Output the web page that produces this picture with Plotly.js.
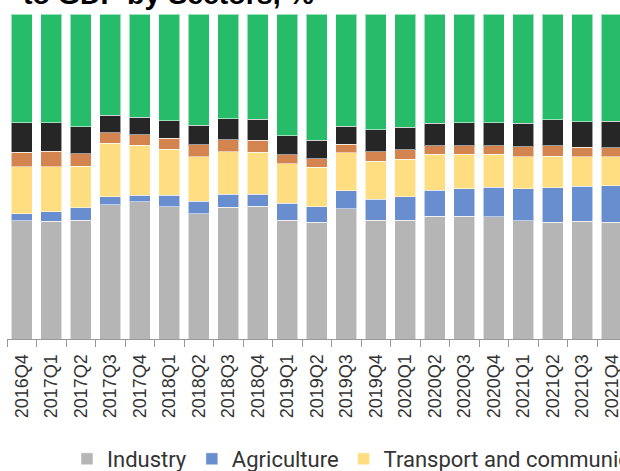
<!DOCTYPE html>
<html>
<head>
<meta charset="utf-8">
<script src="https://cdn.plot.ly/plotly-3.0.1.min.js"></script>
<style>
html, body { margin: 0; padding: 0; overflow: hidden; background: #fff; width: 620px; height: 471px; }
#chart { width: 2400px; height: 471px; }
</style>
</head>
<body>
<div id="chart"></div>
<script>
const quarters = ["2016Q4","2017Q1","2017Q2","2017Q3","2017Q4","2018Q1","2018Q2","2018Q3","2018Q4","2019Q1","2019Q2","2019Q3","2019Q4","2020Q1","2020Q2","2020Q3","2020Q4","2021Q1","2021Q2","2021Q3","2021Q4"];
const industry    = [36.4,36.3,36.6,41.3,42.2,40.7,38.6,40.5,40.8,36.5,35.9,40.1,36.6,36.6,37.8,37.8,37.6,36.4,35.9,36.2,35.9];
const agriculture = [2.2,2.9,3.8,2.5,2.1,3.5,3.8,4.0,3.7,5.2,4.8,5.5,6.4,7.2,7.9,8.5,9.1,9.8,10.6,10.8,11.3];
const transport   = [14.4,13.8,12.8,16.5,15.3,14.2,13.7,13.1,13.0,12.3,12.1,11.7,11.7,11.5,11.1,10.5,10.1,9.9,9.8,9.1,8.9];
const construction= [4.5,4.7,3.8,3.1,3.3,3.3,3.6,3.7,3.6,2.7,2.7,2.6,2.9,2.9,2.6,2.6,2.6,3.0,3.1,2.9,2.7];
const trade       = [9.1,8.9,8.3,5.5,5.4,5.5,6.1,6.4,6.5,5.8,5.7,5.6,6.8,7.0,7.0,7.2,7.2,7.3,8.0,7.8,8.2];
const services    = [33.4,33.4,34.7,31.1,31.7,32.8,34.2,32.3,32.4,37.5,38.8,34.5,35.6,34.8,33.6,33.4,33.4,33.6,32.6,33.2,33.0];

const seriesNames = ["Industry","Agriculture","Transport and communication","Construction","Trade","Services"];
const seriesData = [industry, agriculture, transport, construction, trade, services];
const seriesColors = ["#B5B5B5","#698ED0","#FEDE80","#D4844E","#262626","#27BC69"];

const traces = seriesData.map((vals, i) => ({
  type: "bar",
  name: seriesNames[i],
  x: quarters,
  y: vals,
  marker: { color: seriesColors[i], line: { color: "rgba(255,255,255,0.55)", width: 1 } },
  hoverinfo: "x+y+name"
}));

// The reference is a crop of a wider chart: the page is wider than the window
const figW = 2400, figH = 471;
const mLeft = 7, plotW = 2000, mTop = 14, mBottom = 132;
const catPx = 29.5;              // pixel width of one category
const xMax = -0.5 + plotW / catPx;

const layout = {
  width: figW, height: figH,
  margin: { l: mLeft, r: figW - mLeft - plotW, t: mTop, b: mBottom, pad: 0, autoexpand: false },
  barmode: "stack",
  bargap: 0.3,
  paper_bgcolor: "#ffffff",
  plot_bgcolor: "#ffffff",
  showlegend: true,
  legend: {
    orientation: "h",
    x: (67 - mLeft) / plotW, xanchor: "left",
    y: -120 / 325, yanchor: "middle",
    traceorder: "normal",
    font: { family: "Roboto, sans-serif", size: 22, color: "#333333" },
    bgcolor: "rgba(0,0,0,0)",
    itemclick: false
  },
  xaxis: {
    type: "category",
    range: [-0.5, xMax],
    autorange: false,
    automargin: false,
    tickangle: -90,
    ticks: "outside",
    tickson: "boundaries",
    ticklen: 7,
    tickcolor: "#999999",
    ticklabelstandoff: 7,
    showline: true,
    linecolor: "#999999",
    linewidth: 1,
    showgrid: false,
    zeroline: false,
    tickfont: { family: "Liberation Sans, Arial, sans-serif", size: 18, color: "#333333" },
    fixedrange: true
  },
  yaxis: {
    range: [0, 100],
    autorange: false,
    visible: false,
    showgrid: false,
    zeroline: false,
    fixedrange: true
  },
  annotations: [{
    text: "<b>to GDP by Sectors, %</b>",
    xref: "paper", yref: "paper",
    x: 14 / plotW, y: 1.005,
    xanchor: "left", yanchor: "bottom",
    showarrow: false,
    font: { family: "Liberation Sans, Arial, sans-serif", size: 28.5, color: "#000000" }
  }]
};

Plotly.newPlot("chart", traces, layout, { displayModeBar: false, staticPlot: true });
</script>
</body>
</html>
